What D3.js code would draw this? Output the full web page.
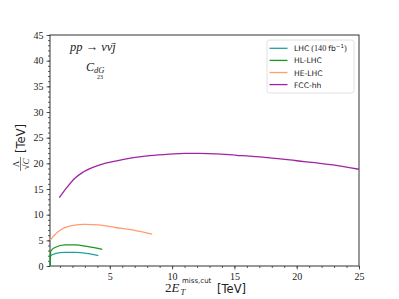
<!DOCTYPE html>
<html>
<head>
<meta charset="utf-8">
<script src="https://cdn.jsdelivr.net/npm/d3@7"></script>
<style>
body { margin: 0; background: #fff; }
svg text { fill: #222; }
</style>
</head>
<body>
<svg width="399" height="299"></svg>
<script>
// curve data: [x (TeV), Lambda/sqrt(C) (TeV)]
var lhc = [[0.2,0],[0.24,2.0],[0.6,2.4],[1.4,2.65],[2.2,2.65],[3.27,2.4],[4.08,2.0]]
var hllhc = [[0.22,0],[0.26,2.9],[0.6,3.6],[1.4,4.1],[2.2,4.1],[3.27,3.76],[4.4,3.25]]
var helhc = [[0.2,5.0],[0.87,6.7],[1.94,7.85],[3.0,8.1],[4.08,8.0],[5.42,7.5],[6.9,7.0],[8.4,6.2]]
var fcchh = [[0.95,13.3],[1.54,15.25],[2.2,17.1],[2.87,18.3],[4.2,19.7],[5.55,20.5],[6.9,21.1],[8.2,21.5],[9.8,21.8],[11.0,21.95],[12.2,21.95],[14.9,21.65],[15.3,21.5],[15.6,21.5],[16.8,21.3],[20.0,20.5],[22.9,19.7],[25.0,18.85]]

var seriesNames = ["LHC", "HL-LHC", "HE-LHC", "FCC-hh"]
var seriesData = [lhc, hllhc, helhc, fcchh]
var colors = ["#22a0a0", "#1a981a", "#ff9c70", "#a024a0"]

var xTicks = [5, 10, 15, 20, 25]
var yTicks = [0, 5, 10, 15, 20, 25, 30, 35, 40, 45]

var svg = d3.select("svg")
var pL = 50, pR = 359, pT = 35, pB = 266

var x = d3.scaleLinear().domain([0.2, 25]).range([pL, pR])
var y = d3.scaleLinear().domain([0, 45]).range([pB, pT])

var serif = "'Liberation Serif', 'DejaVu Serif', serif"
var sans = "'DejaVu Sans', sans-serif"

// minor ticks
var xAxisMinor = d3.axisBottom(x).tickValues(d3.range(1, 26)).tickSize(2).tickFormat("")
var yAxisMinor = d3.axisLeft(y).tickValues(d3.range(0, 46)).tickSize(2).tickFormat("")
svg.append("g").attr("transform", "translate(0," + pB + ")").call(xAxisMinor)
svg.append("g").attr("transform", "translate(" + pL + ",0)").call(yAxisMinor)

svg.append("g")
    .attr("transform", "translate(0," + pB + ")")
    .call(d3.axisBottom(x).tickValues(xTicks).tickSize(3.5).tickPadding(3))
svg.append("g")
    .attr("transform", "translate(" + pL + ",0)")
    .call(d3.axisLeft(y).tickValues(yTicks).tickSize(3.5).tickPadding(3))

svg.selectAll(".tick text").attr("font-family", serif).attr("font-size", 10).attr("fill", "#222")
svg.selectAll(".domain").remove()
svg.selectAll(".tick line").attr("stroke", "#333").attr("stroke-width", 0.8)

// frame
svg.append("rect")
    .attr("x", pL).attr("y", pT)
    .attr("width", pR - pL).attr("height", pB - pT)
    .attr("fill", "none").attr("stroke", "#333").attr("stroke-width", 1)

var line = d3.line()
    .x(function(d) { return x(d[0]) })
    .y(function(d) { return y(d[1]) })
    .curve(d3.curveMonotoneX)

seriesData.forEach(function(s, i) {
    svg.append("path")
        .datum(s)
        .attr("d", line)
        .attr("fill", "none")
        .attr("stroke", colors[i])
        .attr("stroke-width", 1.3)
})

// legend
var lg = svg.append("g").attr("transform", "translate(267,40)")
lg.append("rect")
    .attr("width", 87).attr("height", 53).attr("rx", 2.5)
    .attr("fill", "#fff").attr("stroke", "#d8d8d8").attr("stroke-width", 0.8)
seriesNames.forEach(function(n, i) {
    var yy = 8.3 + i * 12.1
    lg.append("line")
        .attr("x1", 2.5).attr("x2", 20.5).attr("y1", yy).attr("y2", yy)
        .attr("stroke", colors[i]).attr("stroke-width", 1.3)
    var t = lg.append("text")
        .attr("x", 27).attr("y", yy + 3)
        .attr("font-family", sans).attr("font-size", 7.6)
        .text(n)
    if (i == 0) {
        t.append("tspan").attr("font-family", serif).attr("font-size", 8.2).text(" (140 ")
        t.append("tspan").text("fb")
        t.append("tspan").attr("dy", -3).attr("font-size", 5.5).text("\u22121")
        t.append("tspan").attr("dy", 3).attr("font-family", serif).attr("font-size", 8.2).text(")")
    }
})

// process label
var proc = svg.append("text")
    .attr("x", 70).attr("y", 51)
    .attr("font-family", serif).attr("font-size", 12.5).attr("font-style", "italic")
proc.append("tspan").text("pp ")
proc.append("tspan").attr("font-style", "normal").text("\u2192 ")
proc.append("tspan").text("\u03BD\u03BD\u0304j")

var coef = svg.append("text")
    .attr("x", 86).attr("y", 71)
    .attr("font-family", serif).attr("font-size", 12).attr("font-style", "italic")
coef.append("tspan").text("C")
coef.append("tspan").attr("dy", 2).attr("font-size", 8.5).text("dG")
svg.append("text")
    .attr("x", 97).attr("y", 78.5)
    .attr("font-family", serif).attr("font-size", 6)
    .text("23")

// x label
var xl = svg.append("text")
    .attr("x", 165).attr("y", 292)
    .attr("font-family", serif).attr("font-size", 13)
xl.append("tspan").text("2")
xl.append("tspan").attr("font-style", "italic").text("E")
svg.append("text").attr("x", 180.5).attr("y", 295)
    .attr("font-family", serif).attr("font-size", 8.5).attr("font-style", "italic").text("T")
svg.append("text").attr("x", 182).attr("y", 282.5)
    .attr("font-family", sans).attr("font-size", 7).text("miss,cut")
svg.append("text").attr("x", 217).attr("y", 292.5)
    .attr("font-family", sans).attr("font-size", 11.5).text("[TeV]")

// y label (rotated)
var yl = svg.append("g").attr("transform", "translate(22,150) rotate(-90)")
yl.append("text").attr("x", -14).attr("y", -3.5).attr("text-anchor", "middle")
    .attr("font-family", serif).attr("font-size", 9).text("\u039B")
yl.append("line").attr("x1", -21).attr("x2", -7).attr("y1", -1.5).attr("y2", -1.5)
    .attr("stroke", "#222").attr("stroke-width", 0.6)
yl.append("text").attr("x", -14).attr("y", 7).attr("text-anchor", "middle")
    .attr("font-family", serif).attr("font-size", 9).attr("font-style", "italic").text("\u221AC")
yl.append("text").attr("x", -3).attr("y", 3).attr("text-anchor", "start")
    .attr("font-family", sans).attr("font-size", 11.5).text("[TeV]")
</script>
</body>
</html>
